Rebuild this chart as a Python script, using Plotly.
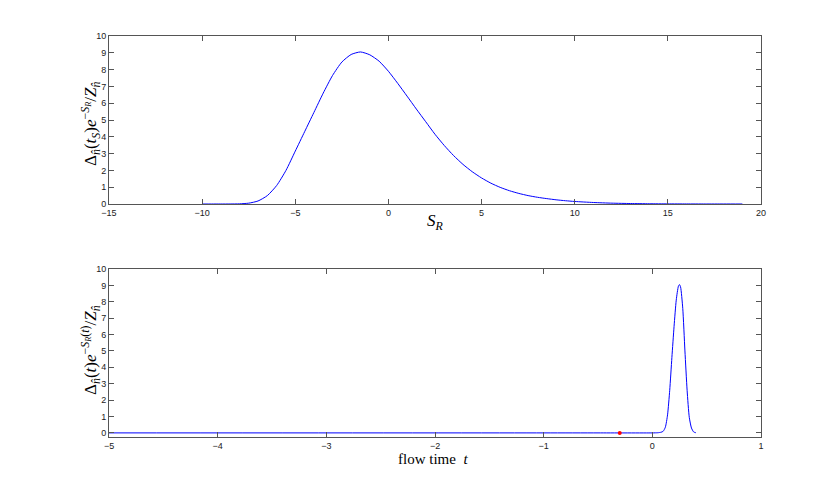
import plotly.graph_objects as go

# Top panel: distribution over S_R
s_r = [-10, -9.5, -9, -8.5, -8, -7.5, -7, -6.5, -6, -5.5, -5, -4.5, -4, -3.5, -3, -2.5, -2,
       -1.5, -1, -0.5, 0, 0.5, 1, 1.5, 2, 2.5, 3, 3.5, 4, 4.5, 5, 5.5, 6, 6.5, 7, 7.5,
       8, 8.5, 9, 9.5, 10, 11, 12, 13, 14, 15, 16, 17, 18, 19]
top_vals = [0, 0, 0.0005, 0.002, 0.01, 0.05, 0.18, 0.5, 1.1, 2.0, 3.15, 4.3, 5.45, 6.6,
            7.65, 8.45, 8.9, 9.05, 8.88, 8.5, 7.9, 7.18, 6.42, 5.65, 4.9, 4.15, 3.48,
            2.88, 2.36, 1.92, 1.55, 1.24, 0.99, 0.79, 0.63, 0.5, 0.4, 0.32, 0.25, 0.195,
            0.15, 0.09, 0.05, 0.028, 0.015, 0.008, 0.004, 0.002, 0.001, 0.0005]

# Bottom panel: distribution over flow time t
flow_t = [-5, -1, -0.5, 0, 0.05, 0.08, 0.1, 0.12, 0.14, 0.16, 0.18, 0.2, 0.22, 0.24,
          0.25, 0.26, 0.28, 0.3, 0.32, 0.34, 0.36, 0.38, 0.4]
bottom_vals = [0, 0, 0, 0, 0.01, 0.04, 0.1, 0.35, 1.1, 2.6, 4.6, 6.5, 8.1, 8.95,
               9.05, 8.9, 7.6, 5.0, 2.6, 0.95, 0.3, 0.06, 0.01]

marker_t = [-0.3]
marker_v = [0]

top_xticks = [-15, -10, -5, 0, 5, 10, 15, 20]
bottom_xticks = [-5, -4, -3, -2, -1, 0, 1]
yticks = list(range(0, 11))

fig = go.Figure()
fig.add_trace(go.Scatter(x=s_r, y=top_vals, mode="lines",
                         line=dict(color="#0000ff", width=1, shape="spline", smoothing=0.6),
                         xaxis="x", yaxis="y", showlegend=False))
fig.add_trace(go.Scatter(x=flow_t, y=bottom_vals, mode="lines",
                         line=dict(color="#0000ff", width=1, shape="spline", smoothing=0.6),
                         xaxis="x2", yaxis="y2", showlegend=False))
fig.add_trace(go.Scatter(x=marker_t, y=marker_v, mode="markers", marker=dict(color="#ff0000", size=4),
                         xaxis="x2", yaxis="y2", showlegend=False))

axis_common = dict(showgrid=False, zeroline=False, showline=True, linecolor="#555555", linewidth=1,
                   mirror="ticks", ticks="inside", ticklen=5, tickcolor="#555555", automargin=False,
                   tickfont=dict(family="Liberation Sans, Arial", size=9, color="#222222"))

fig.update_layout(
    width=840, height=491, autosize=False, showlegend=False,
    margin=dict(l=0, r=0, t=0, b=0, pad=0, autoexpand=False),
    paper_bgcolor="white", plot_bgcolor="white",
    xaxis=dict(domain=[109/840, 761/840], range=[-15, 20], tickvals=top_xticks, anchor="y", **axis_common),
    yaxis=dict(domain=[1-204/491, 1-36/491], range=[0, 10], tickvals=yticks, anchor="x", **axis_common),
    xaxis2=dict(domain=[109/840, 761/840], range=[-5, 1], tickvals=bottom_xticks, anchor="y2", **axis_common),
    yaxis2=dict(domain=[1-437/491, 1-269/491], range=[-0.25, 10], tickvals=yticks, anchor="x2", **axis_common),
)

serif = "Liberation Serif, Times New Roman, serif"
title_common = dict(xref="paper", yref="paper", showarrow=False, xanchor="center", yanchor="middle")
fig.add_annotation(x=90/840, y=1-124/491, textangle=-90, **title_common,
                   text="Δ<sub><i>n̂</i></sub>(<i>t<sub>S</sub></i>)<i>e</i><sup>−<i>S<sub>R</sub></i></sup>/<i>Z</i><sub><i>n̂</i></sub>",
                   font=dict(family=serif, size=17, color="black"))
fig.add_annotation(x=435/840, y=1-222/491, **title_common,
                   text="<i>S<sub>R</sub></i>", font=dict(family=serif, size=17, color="black"))
fig.add_annotation(x=90/840, y=1-350/491, textangle=-90, **title_common,
                   text="Δ<sub><i>n̂</i></sub>(<i>t</i>)<i>e</i><sup>−<i>S<sub>R</sub></i>(<i>t</i>)</sup>/<i>Z</i><sub><i>n̂</i></sub>",
                   font=dict(family=serif, size=17, color="black"))
fig.add_annotation(x=433/840, y=1-459/491, **title_common,
                   text="flow time  <i>t</i>", font=dict(family=serif, size=15, color="black"))

fig.write_html("out.html", config={"displayModeBar": False})

# remove default page margin so the figure sits at the window's top-left corner
with open("out.html", "r", encoding="utf-8") as f:
    html = f.read()
html = html.replace("<body>", '<body style="margin:0;overflow:hidden">', 1)
with open("out.html", "w", encoding="utf-8") as f:
    f.write(html)
